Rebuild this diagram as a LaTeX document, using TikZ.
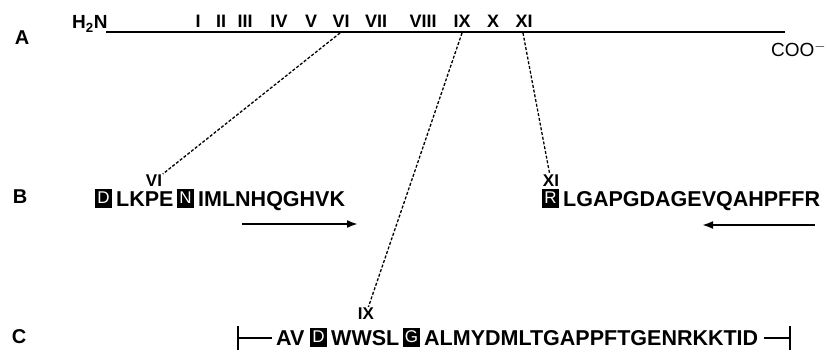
\documentclass[tikz,border=0pt]{standalone}
\usepackage{fontspec}
\setmainfont{Liberation Sans}
\usetikzlibrary{arrows.meta}
\begin{document}
\begin{tikzpicture}[x=1pt,y=-1pt,
  lab/.style={font=\fontsize{20}{20}\selectfont\bfseries, inner sep=0pt},
  rom/.style={font=\fontsize{18}{18}\selectfont\bfseries, anchor=base, inner sep=0pt},
  seq/.style={font=\fontsize{21.5}{21.5}\selectfont\bfseries, anchor=base west, inner sep=0pt},
  inv/.style={fill=black, text=white, font=\fontsize{17}{17}\selectfont, minimum width=17pt, minimum height=19pt, inner sep=0pt},
  site/.style={font=\fontsize{17}{17}\selectfont\bfseries, inner sep=1pt},
  dsh/.style={dash pattern=on 3pt off 1.8pt, line width=1.3pt},
  arr/.style={line width=2pt, -{Latex[length=11pt,width=8pt]}},
  chain/.style={line width=2.2pt},
  brk/.style={line width=1.1pt}]
\useasboundingbox (0,0) rectangle (830,353);
% ---------- A ----------
\node[lab] (labA) at (22,38) {A};
\node[font=\fontsize{19}{19}\selectfont\bfseries, anchor=base west, inner sep=0pt] (nterm) at (72,29) {H\textsubscript{2}N};
\coordinate (lineS) at (106,32);
\coordinate (lineE) at (785,32);
\draw[chain] (lineS) -- (lineE);
\node[font=\fontsize{19}{19}\selectfont, anchor=base west, inner sep=0pt] (cterm) at (771,57) {COO\textsuperscript{$-$}};
\node[rom] (r1) at (198,28) {I};
\node[rom] (r2) at (221,28) {II};
\node[rom] (r3) at (245,28) {III};
\node[rom] (r4) at (279,28) {IV};
\node[rom] (r5) at (311,28) {V};
\node[rom] (r6) at (341,28) {VI};
\node[rom] (r7) at (376,28) {VII};
\node[rom] (r8) at (423,28) {VIII};
\node[rom] (r9) at (462,28) {IX};
\node[rom] (r10) at (493,28) {X};
\node[rom] (r11) at (524,28) {XI};
\coordinate (p6) at (340,33);
\coordinate (p9) at (462,33);
\coordinate (p11) at (523,33);
% ---------- B ----------
\node[lab] (labB) at (20,197) {B};
\node[site] (sVI) at (154,181) {VI};
\node[site] (sXI) at (551,181) {XI};
\node[inv] (bD1) at (103.5,198) {D};
\node[seq] (tB1) at (116,206) {LKPE};
\node[inv] (bN) at (185.5,198) {N};
\node[seq] (tB2) at (198,206) {IMLNHQGHVK};
\coordinate (aB1s) at (242,224);
\coordinate (aB1e) at (358,224);
\draw[arr] (aB1s) -- (aB1e);
\node[inv] (bR) at (550.5,198) {R};
\node[seq] (tB3) at (563,206) {LGAPGDAGEVQAHPFFR};
\coordinate (aB2s) at (815,225);
\coordinate (aB2e) at (702,225);
\draw[arr] (aB2s) -- (aB2e);
% ---------- C ----------
\node[lab] (labC) at (19,337) {C};
\node[site] (sIX) at (366,314) {IX};
\coordinate (cL) at (238,338);
\coordinate (cLe) at (272,338);
\draw[brk] ([yshift=-12pt]cL) -- ([yshift=12pt]cL);
\draw[brk] (cL) -- (cLe);
\node[seq] (tC1) at (276,345) {AV};
\node[inv] (bD2) at (318.5,337) {D};
\node[seq] (tC2) at (331,345) {WWSL};
\node[inv] (bG) at (411.5,337) {G};
\node[seq] (tC3) at (424,345) {ALMYDMLTGAPPFTGENRKKTID};
\coordinate (cRs) at (764,338);
\coordinate (cR) at (790,338);
\draw[brk] (cRs) -- (cR);
\draw[brk] ([yshift=-12pt]cR) -- ([yshift=12pt]cR);
% ---------- connectors ----------
\draw[dsh] (p6) -- (sVI);
\draw[dsh] (p9) -- (sIX);
\draw[dsh] (p11) -- (sXI);
\end{tikzpicture}
\end{document}
